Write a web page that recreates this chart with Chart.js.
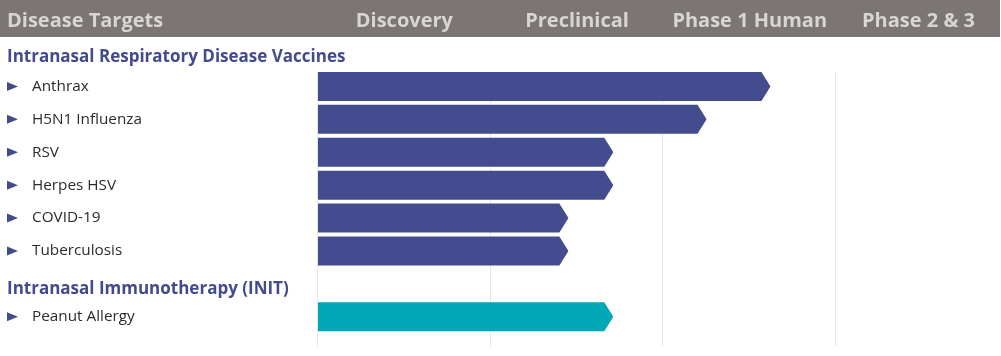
<!DOCTYPE html>
<html>
<head>
<meta charset="utf-8">
<script src="https://cdn.jsdelivr.net/npm/chart.js@4/dist/chart.umd.min.js"></script>
<style>
  html, body { margin: 0; padding: 0; background: #fff; }
  #wrap { width: 1001px; height: 356px; position: relative; }
</style>
</head>
<body>
<div id="wrap"><canvas id="c" width="1001" height="356"></canvas></div>
<script>
// ---- data ----
const categories = ["Anthrax", "H5N1 Influenza", "RSV", "Herpes HSV", "COVID-19", "Tuberculosis", "", "Peanut Allergy"];
const progress   = [2.62, 2.25, 1.71, 1.71, 1.45, 1.45, null, 1.71];
const barColors  = ["#434c8e", "#434c8e", "#434c8e", "#434c8e", "#434c8e", "#434c8e", "#434c8e", "#00a9b5"];
const groupLabels = ["Intranasal Respiratory Disease Vaccines", "Intranasal Immunotherapy (INIT)"];
const groupRows   = [0, 6];
const phases = ["Discovery", "Preclinical", "Phase 1 Human", "Phase 2 & 3"];
const firstHeader = "Disease Targets";

const BLUE = "#424b8c";
const TIP = 9;

const pipelinePlugin = {
  id: "pipeline",
  beforeDatasetsDraw(chart) {
    const ctx = chart.ctx, x = chart.scales.x, y = chart.scales.y, ca = chart.chartArea;
    ctx.save();
    // header band
    ctx.fillStyle = "#7b7573";
    ctx.fillRect(0, 0, 1000, 37);
    ctx.fillStyle = "#d8d5d4";
    ctx.font = "bold 20px 'Open Sans'";
    ctx.textBaseline = "alphabetic";
    ctx.textAlign = "left";
    ctx.fillText(firstHeader, 7, 27);
    ctx.textAlign = "center";
    phases.forEach((p, i) => {
      const a = x.getPixelForValue(i);
      const b = x.getPixelForValue(Math.min(i + 1, x.max));
      ctx.fillText(p, (a + b) / 2, 27);
    });
    // vertical grid lines
    ctx.strokeStyle = "#e6e6e6";
    ctx.lineWidth = 1;
    for (let t = 0; t < phases.length; t++) {
      const px = Math.round(x.getPixelForValue(t)) - 0.5;
      ctx.beginPath();
      ctx.moveTo(px, ca.top + 2);
      ctx.lineTo(px, 346);
      ctx.stroke();
    }
    // row labels
    ctx.textAlign = "left";
    ctx.textBaseline = "middle";
    categories.forEach((c, i) => {
      if (!c) return;
      const py = y.getPixelForValue(i);
      ctx.fillStyle = BLUE;
      ctx.beginPath();
      ctx.moveTo(7, py - 4.5);
      ctx.lineTo(18, py);
      ctx.lineTo(7, py + 4.5);
      ctx.closePath();
      ctx.fill();
      ctx.fillStyle = "#2b2b2b";
      ctx.font = "15.3px 'Open Sans'";
      ctx.fillText(c, 32, py);
    });
    // group headers
    ctx.fillStyle = BLUE;
    ctx.font = "bold 17px 'Open Sans'";
    groupLabels.forEach((g, k) => {
      const r = groupRows[k];
      const py = categories[r] ? y.getPixelForValue(r) - 29 : y.getPixelForValue(r) + 5;
      ctx.fillText(g, 7, py);
    });
    ctx.restore();
  },
  beforeDatasetDraw(chart, args) {
    const ctx = chart.ctx;
    const meta = args.meta;
    ctx.save();
    meta.data.forEach((el, i) => {
      if (progress[i] == null) return;
      const p = el.getProps(["x", "y", "base", "height"], true);
      const h = p.height / 2;
      ctx.fillStyle = barColors[i];
      ctx.beginPath();
      ctx.moveTo(p.base, p.y - h);
      ctx.lineTo(p.x - TIP, p.y - h);
      ctx.lineTo(p.x, p.y);
      ctx.lineTo(p.x - TIP, p.y + h);
      ctx.lineTo(p.base, p.y + h);
      ctx.closePath();
      ctx.fill();
    });
    ctx.restore();
    return false;
  }
};

new Chart(document.getElementById("c"), {
  type: "bar",
  data: {
    labels: categories,
    datasets: [{
      data: progress,
      backgroundColor: barColors,
      barThickness: 29
    }]
  },
  options: {
    indexAxis: "y",
    responsive: false,
    animation: false,
    layout: { padding: { left: 318, right: 0, top: 70, bottom: 22.8 } },
    scales: {
      x: { type: "linear", min: 0, max: 3.955, display: false },
      y: { type: "category", display: false }
    },
    plugins: { legend: { display: false }, tooltip: { enabled: false } }
  },
  plugins: [pipelinePlugin]
});
</script>
</body>
</html>
